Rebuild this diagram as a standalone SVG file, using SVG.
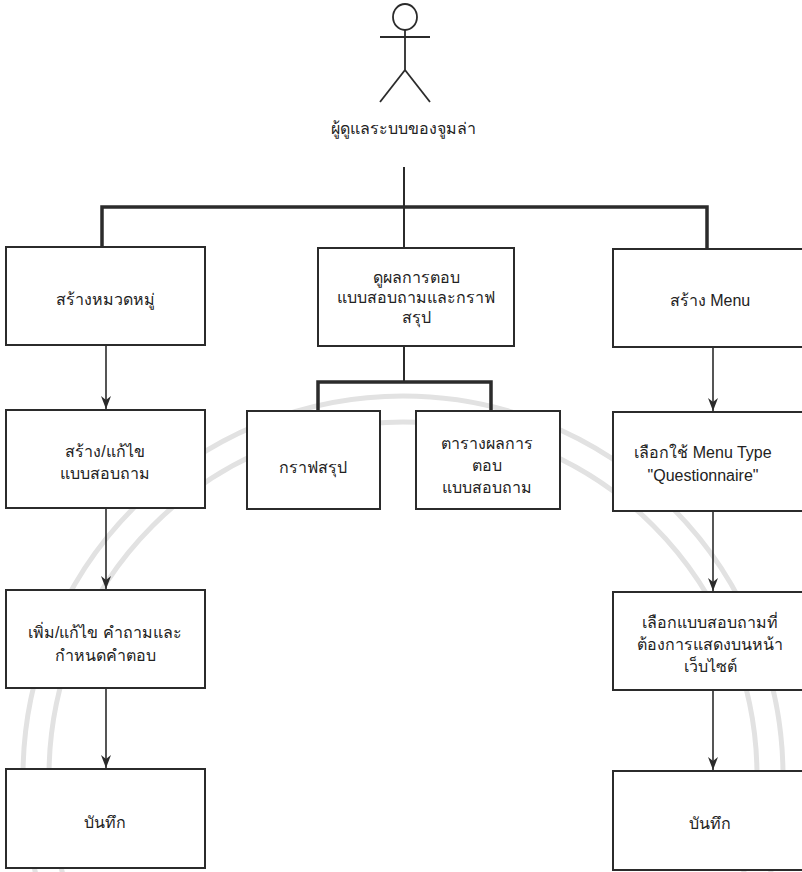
<svg xmlns="http://www.w3.org/2000/svg" width="802" height="872" viewBox="0 0 802 872">
<style>
.box{fill:#ffffff;stroke:#2b2b2b;stroke-width:2}
.t{font-family:"Liberation Sans","Noto Sans",sans-serif;font-size:16px;fill:#222;text-anchor:middle;dominant-baseline:central}
.thick{stroke:#2b2b2b;stroke-width:3.5;fill:none}
.thin{stroke:#2b2b2b;stroke-width:2;fill:none}
.arr{stroke:#2b2b2b;stroke-width:1.6;fill:none;marker-end:url(#ah)}
.wm{fill:none;stroke:#e2e2e2;stroke-width:5}
</style>
<defs>
<marker id="ah" markerWidth="13" markerHeight="10" refX="13" refY="5" orient="auto" markerUnits="userSpaceOnUse" viewBox="0 0 13 10">
<path d="M0,0 L13,5 L0,10 L4,5 Z" fill="#2b2b2b"/>
</marker>
</defs>
<rect width="802" height="872" fill="#ffffff"/>
<g id="watermark">
<circle class="wm" cx="403" cy="776" r="380"/>
<circle class="wm" cx="403" cy="776" r="354" stroke-width="4"/>
</g>
<g id="actor" stroke="#2b2b2b" stroke-width="1.8" fill="none">
<ellipse cx="405" cy="17" rx="12" ry="13"/>
<line x1="405" y1="30" x2="405" y2="70"/>
<line x1="380" y1="37" x2="430" y2="37"/>
<line x1="405" y1="70" x2="380" y2="102"/>
<line x1="405" y1="70" x2="430" y2="102"/>
<text class="t" x="403" y="128" stroke="none">ผู้ดูแลระบบของจูมล่า</text>
</g>
<g id="connectors">
<line class="thin" x1="404" y1="167" x2="404" y2="207"/>
<polyline class="thick" points="102,247 102,207 707,207 707,248"/>
<line class="thin" x1="404" y1="207" x2="404" y2="248"/>
<line class="thin" x1="404" y1="346" x2="404" y2="382"/>
<polyline class="thick" points="318,411 318,382 491,382 491,411"/>
<line class="arr" x1="106" y1="345" x2="106" y2="409"/>
<line class="arr" x1="106" y1="508" x2="106" y2="589"/>
<line class="arr" x1="106" y1="688" x2="106" y2="768"/>
<line class="arr" x1="713" y1="347" x2="713" y2="411"/>
<line class="arr" x1="713" y1="511" x2="713" y2="591"/>
<line class="arr" x1="713" y1="690" x2="713" y2="770"/>
</g>
<g id="n1"><rect class="box" x="6" y="247" width="199" height="98"/><text class="t" x="105" y="299">สร้างหมวดหมู่</text></g>
<g id="n2"><rect class="box" x="318" y="248" width="196" height="98"/>
<text class="t" x="416" y="277">ดูผลการตอบ</text><text class="t" x="416" y="297">แบบสอบถามและกราฟ</text><text class="t" x="416" y="317">สรุป</text></g>
<g id="n3"><rect class="box" x="613" y="249" width="192" height="98"/><text class="t" x="710" y="300">สร้าง Menu</text></g>
<g id="n4"><rect class="box" x="6" y="410" width="199" height="98"/>
<text class="t" x="105" y="451">สร้าง/แก้ไข</text><text class="t" x="105" y="473">แบบสอบถาม</text></g>
<g id="n5"><rect class="box" x="247" y="411" width="133" height="98"/><text class="t" x="313" y="467">กราฟสรุป</text></g>
<g id="n6"><rect class="box" x="416" y="411" width="144" height="98"/>
<text class="t" x="487" y="443">ตารางผลการ</text><text class="t" x="487" y="465">ตอบ</text><text class="t" x="487" y="487">แบบสอบถาม</text></g>
<g id="n7"><rect class="box" x="613" y="412" width="192" height="99"/>
<text class="t" x="703" y="452">เลือกใช้ Menu Type</text><text class="t" x="703" y="475">"Questionnaire"</text></g>
<g id="n8"><rect class="box" x="6" y="590" width="199" height="98"/>
<text class="t" x="105" y="632">เพิ่ม/แก้ไข คำถามและ</text><text class="t" x="105" y="655">กำหนดคำตอบ</text></g>
<g id="n9"><rect class="box" x="613" y="592" width="192" height="98"/>
<text class="t" x="710" y="622">เลือกแบบสอบถามที่</text><text class="t" x="710" y="644">ต้องการแสดงบนหน้า</text><text class="t" x="710" y="666">เว็บไซต์</text></g>
<g id="n10"><rect class="box" x="6" y="769" width="199" height="99"/><text class="t" x="105" y="822">บันทึก</text></g>
<g id="n11"><rect class="box" x="613" y="771" width="192" height="99"/><text class="t" x="710" y="823">บันทึก</text></g>
</svg>
